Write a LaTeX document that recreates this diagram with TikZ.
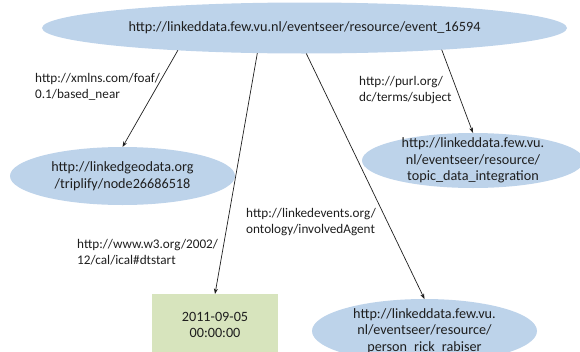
\documentclass[tikz,border=0pt]{standalone}
\usepackage{fontspec}
\setmainfont{Carlito}
\usetikzlibrary{shapes.geometric,arrows.meta}
\definecolor{nodeblue}{HTML}{BDD3EA}
\definecolor{boxgreen}{HTML}{D7E4BD}
\definecolor{inkc}{HTML}{1E1E1E}
\begin{document}
\begin{tikzpicture}[x=1pt,y=-1pt,
  res/.style={ellipse,fill=nodeblue,draw=none,inner sep=-12pt,outer sep=0pt,align=center,
    font=\fontsize{14.2}{16.5}\selectfont,text=inkc},
  lit/.style={rectangle,fill=boxgreen,draw=none,inner sep=-12pt,outer sep=0pt,align=center,
    font=\fontsize{14.2}{16.5}\selectfont,text=inkc},
  lbl/.style={align=left,anchor=west,inner sep=0pt,
    font=\fontsize{13.2}{16}\selectfont,text=inkc},
  arr/.style={draw=inkc,line width=0.7pt,-{Stealth[length=5.5pt,width=4pt]}}]
\useasboundingbox (0,0) rectangle (580,351);
\clip (0,0) rectangle (580,351);
\node[res,minimum width=525pt,minimum height=51pt] (ev) at (304.5,28)
  {http://linkeddata.few.vu.nl/eventseer/resource/event\_16594};
\node[res,minimum width=225pt,minimum height=58pt] (geo) at (122.5,176)
  {http://linkedgeodata.org\\/triplify/node26686518};
\node[res,minimum width=222pt,minimum height=55pt] (topic) at (473,160.5)
  {http://linkeddata.few.vu.\\nl/eventseer/resource/\\topic\_data\_integration};
\node[lit,minimum width=126pt,minimum height=62pt] (date) at (215,325)
  {2011-09-05\\00:00:00};
\node[res,minimum width=225pt,minimum height=64pt] (person) at (424.5,331)
  {http://linkeddata.few.vu.\\nl/eventseer/resource/\\person\_rick\_rabiser};
\node[lbl] (l1) at (35,87) {http://xmlns.com/foaf/\\0.1/based\_near};
\node[lbl] (l4) at (359,90) {http://purl.org/\\dc/terms/subject};
\node[lbl] (l3) at (246,222) {http://linkedevents.org/\\ontology/involvedAgent};
\node[lbl] (l2) at (77,252) {http://www.w3.org/2002/\\12/cal/ical\#dtstart};
\draw[arr] (ev.190.8) -- (geo.north);
\draw[arr] (ev.208.6) -- (date.north);
\draw[arr] (ev.274.5) -- (person.north);
\draw[arr] (ev.351.2) -- (topic.north);
\end{tikzpicture}
\end{document}
